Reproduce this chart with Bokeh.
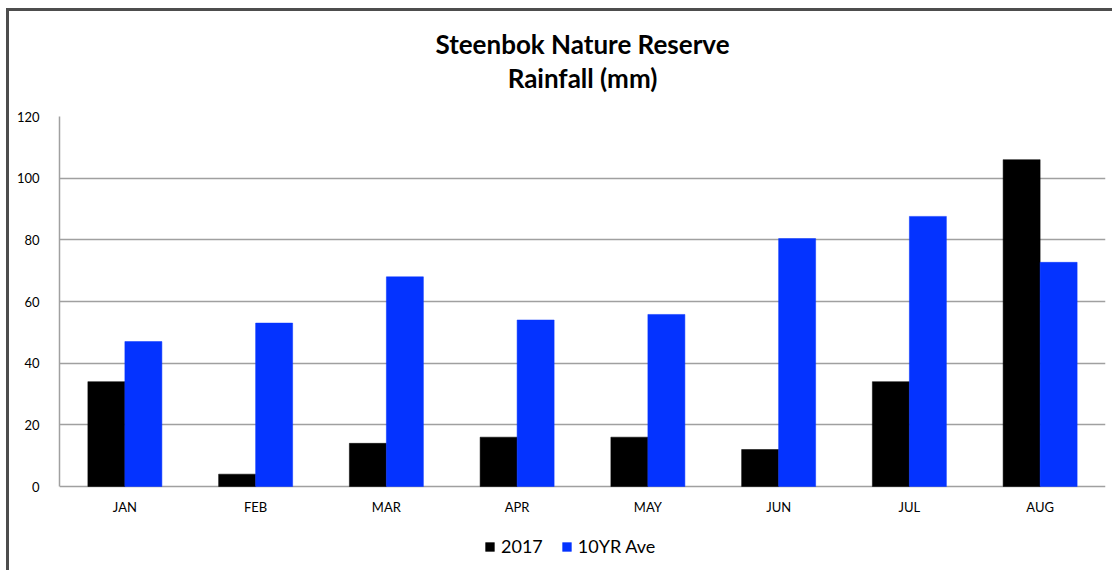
from bokeh.plotting import figure
from bokeh.models import ColumnDataSource, FactorRange, Legend, LegendItem, Title, FixedTicker
from bokeh.core.properties import value
from bokeh.transform import dodge
from bokeh.embed import file_html
from bokeh.resources import INLINE

months = ["JAN", "FEB", "MAR", "APR", "MAY", "JUN", "JUL", "AUG"]
rain_2017 = [34, 4, 14, 16, 16, 12, 34, 106]
rain_10yr = [47, 53, 68, 54, 55.8, 80.4, 87.6, 72.7]
y_ticks = [0, 20, 40, 60, 80, 100, 120]

src = ColumnDataSource(dict(m=months, a=rain_2017, b=rain_10yr))

FONT = "Lato"

# frame extends to the bottom of the canvas so the legend can sit inside it
y_bottom = -87 * 120 / 370.0

p = figure(x_range=FactorRange(*months, range_padding=0), y_range=(y_bottom, 120),
           width=1106, height=562, output_backend="svg", toolbar_location=None,
           title=None, x_axis_location=None,
           min_border_left=50, min_border_right=10,
           min_border_top=105, min_border_bottom=0)
p.styles = {"margin-left": "6px", "margin-top": "8px",
            "border-left": "3px solid #4d4d4d", "border-top": "3px solid #4d4d4d"}

r1 = p.vbar(x=dodge("m", -0.1415, range=p.x_range), top="a", width=0.283, source=src,
            fill_color="#000000", line_color="#000000", line_width=0.5)
r2 = p.vbar(x=dodge("m", 0.1415, range=p.x_range), top="b", width=0.283, source=src,
            fill_color="#0433FF", line_color="#0433FF", line_width=0.5)

# month labels under the baseline
p.text(x="m", y=0, text="m", source=src, y_offset=20, text_align="center",
       text_baseline="middle", text_font=value(FONT), text_font_size="13px",
       text_color="#000000")

spacer = Title(text=" ", align="center", text_font=FONT, text_font_size="17px", standoff=0)
t2 = Title(text="Rainfall (mm)", align="center", text_font=FONT, text_font_size="26px",
           text_font_style="bold", text_color="#000000", standoff=0)
t1 = Title(text="Steenbok Nature Reserve", align="center", text_font=FONT, text_font_size="26px",
           text_font_style="bold", text_color="#000000", standoff=0)
p.add_layout(spacer, "above")
p.add_layout(t2, "above")
p.add_layout(t1, "above")

p.yaxis.ticker = FixedTicker(ticks=y_ticks)
p.yaxis.bounds = (0, 120)
p.yaxis.major_tick_line_color = None
p.yaxis.minor_tick_line_color = None
p.yaxis.axis_line_color = "#a0a0a0"
p.yaxis.axis_line_width = 1.5
p.yaxis.major_label_text_font = FONT
p.yaxis.major_label_text_font_size = "13px"
p.yaxis.major_label_text_color = "#000000"
p.yaxis.major_label_standoff = 14

for g in p.grid:
    if g.dimension == 0:
        g.grid_line_color = None
        g.visible = False
    else:
        g.grid_line_color = "#a0a0a0"
        g.grid_line_width = 1.5
p.outline_line_color = None

legend = Legend(items=[LegendItem(label="2017", renderers=[r1]),
                       LegendItem(label="10YR Ave", renderers=[r2])],
                orientation="horizontal", location=(425, 16),
                glyph_width=11, glyph_height=11, label_standoff=6, spacing=18,
                label_text_font=FONT, label_text_font_size="18px", label_text_color="#000000",
                border_line_color=None, background_fill_alpha=0, margin=0, padding=4)
p.add_layout(legend, "center")

open("out.html", "w").write(file_html(p, INLINE))
